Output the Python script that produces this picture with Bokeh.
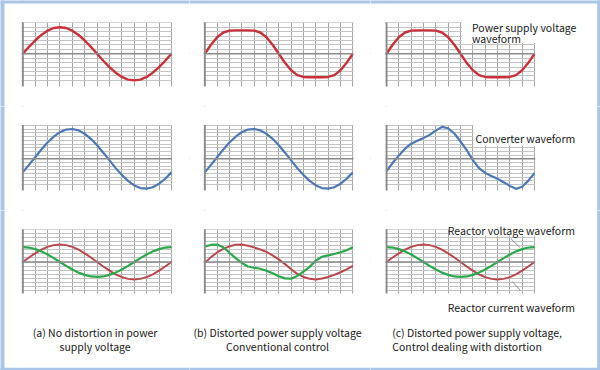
from bokeh.plotting import figure
from bokeh.layouts import gridplot
from bokeh.models import FixedTicker, Span, Label, BoxAnnotation, Range1d
from bokeh.embed import file_html
from bokeh.resources import INLINE

# ---------------- data ----------------
phase_deg = [0, 15, 30, 45, 60, 75, 90, 105, 120, 135, 150, 165, 180,
             195, 210, 225, 240, 255, 270, 285, 300, 315, 330, 345, 360]

# power supply voltage (per unit)
supply_a = [0.00, 0.26, 0.50, 0.71, 0.87, 0.97, 1.00, 0.97, 0.87, 0.71, 0.50, 0.26, 0.00,
            -0.26, -0.50, -0.71, -0.87, -0.97, -1.00, -0.97, -0.87, -0.71, -0.50, -0.26, 0.00]
supply_bc = [0.00, 0.34, 0.62, 0.80, 0.87, 0.88, 0.88, 0.88, 0.87, 0.80, 0.62, 0.34, 0.00,
             -0.34, -0.62, -0.80, -0.87, -0.88, -0.88, -0.88, -0.87, -0.80, -0.62, -0.34, 0.00]

# converter voltage (per unit)
conv_a = [-0.51, -0.23, 0.06, 0.35, 0.61, 0.83, 1.00, 1.10, 1.12, 1.07, 0.94, 0.75, 0.51,
          0.23, -0.06, -0.35, -0.61, -0.83, -1.00, -1.10, -1.12, -1.07, -0.94, -0.75, -0.51]
conv_b = [-0.51, -0.23, 0.06, 0.35, 0.61, 0.83, 1.00, 1.10, 1.12, 1.07, 0.94, 0.75, 0.51,
          0.23, -0.06, -0.35, -0.61, -0.83, -1.00, -1.10, -1.12, -1.07, -0.94, -0.75, -0.51]
conv_c = [-0.47, -0.15, 0.12, 0.38, 0.57, 0.68, 0.78, 0.90, 1.06, 1.20, 1.15, 0.95, 0.65,
          0.33, -0.05, -0.35, -0.53, -0.65, -0.75, -0.88, -1.02, -1.13, -1.05, -0.82, -0.54]

# reactor voltage (green) and reactor current (red)
rv_a = [0.86, 0.83, 0.74, 0.61, 0.43, 0.22, 0.00, -0.22, -0.43, -0.61, -0.74, -0.83, -0.86,
        -0.83, -0.74, -0.61, -0.43, -0.22, 0.00, 0.22, 0.43, 0.61, 0.74, 0.83, 0.86]
ri_a = [0.00, 0.26, 0.50, 0.71, 0.87, 0.97, 1.00, 0.97, 0.87, 0.71, 0.50, 0.26, 0.00,
        -0.26, -0.50, -0.71, -0.87, -0.97, -1.00, -0.97, -0.87, -0.71, -0.50, -0.26, 0.00]
rv_b = [0.90, 0.98, 1.00, 0.85, 0.53, 0.22, -0.05, -0.26, -0.33, -0.39, -0.50, -0.65, -0.82,
        -0.94, -0.96, -0.80, -0.55, -0.28, 0.08, 0.30, 0.38, 0.46, 0.56, 0.68, 0.85]
ri_b = [-0.05, 0.28, 0.55, 0.75, 0.90, 0.99, 1.00, 0.93, 0.84, 0.72, 0.58, 0.38, 0.15,
        -0.12, -0.42, -0.68, -0.86, -0.96, -1.00, -0.95, -0.86, -0.74, -0.59, -0.42, -0.22]
rv_c = [0.86, 0.83, 0.74, 0.61, 0.43, 0.22, 0.00, -0.22, -0.43, -0.61, -0.74, -0.83, -0.86,
        -0.83, -0.74, -0.61, -0.43, -0.22, 0.00, 0.22, 0.43, 0.61, 0.74, 0.83, 0.86]
ri_c = [0.00, 0.26, 0.50, 0.71, 0.87, 0.97, 1.00, 0.97, 0.87, 0.71, 0.50, 0.26, 0.00,
        -0.26, -0.50, -0.71, -0.87, -0.97, -1.00, -0.97, -0.87, -0.71, -0.50, -0.26, 0.00]

captions = [["(a) No distortion in power", "supply voltage"],
            ["(b) Distorted power supply voltage", "Conventional control"],
            ["(c) Distorted power supply voltage,", "Control dealing with distortion"]]
label_supply = ["Power supply voltage", "waveform"]
label_conv = "Converter waveform"
label_rv = "Reactor voltage waveform"
label_ri = "Reactor current waveform"

# leader lines (phase, value) for the reactor labels
lead_x0 = [303, 306]
lead_y0 = [1.33, -1.12]
lead_x1 = [324, 326]
lead_y1 = [0.85, -1.64]

# ---------------- layout / styling ----------------
FONT = "Noto Sans CJK JP"
FSIZE = "10.5px"
RED = "#c9303a"
BLUE = "#4d78b3"
GREEN = "#2aa84c"
DRED = "#b9474c"
VGRID = "#a6a6a6"
HGRID = "#c4c4c4"
AXIS = "#8a8a8a"
FRAME = "#a9c5e7"

# pixel geometry of the three columns and rows of panels
cols = [dict(x0=0, w=189, origin=22.3, ppd=148.6 / 360),
        dict(x0=189, w=181, origin=204.3, ppd=148.0 / 360),
        dict(x0=370, w=230, origin=386.0, ppd=148.0 / 360)]
rows = [dict(y0=0, h=106, center=53.3, ppu=26.6, step=1 / 6, kmin=-6, kmax=7, gbottom=86.0),
        dict(y0=106, h=104, center=158.3, ppu=26.6, step=0.139, kmin=-7, kmax=9, gbottom=190.0),
        dict(y0=210, h=160, center=261.5, ppu=17.4, step=0.2316, kmin=-7, kmax=8, gbottom=293.0)]


def X(c, px):
    return (px - c["origin"]) / c["ppd"]


def Y(r, py):
    return (r["center"] - py) / r["ppu"]


def mask(p, left, right, bottom, top, color="white"):
    p.add_layout(BoxAnnotation(left=left, right=right, bottom=bottom, top=top,
                               fill_color=color, fill_alpha=1, line_color=None))


ext = {}


def panel(ci, ri):
    c, r = cols[ci], rows[ri]
    xs, xe = X(c, c["x0"]), X(c, c["x0"] + c["w"])
    yt, yb = Y(r, r["y0"]), Y(r, r["y0"] + r["h"])
    p = figure(width=c["w"], height=r["h"], x_range=Range1d(xs, xe),
               y_range=Range1d(yb, yt), output_backend="svg",
               toolbar_location=None, x_axis_location=None, y_axis_location=None,
               min_border_left=0, min_border_right=0, min_border_top=0,
               min_border_bottom=0, title=None)
    p.outline_line_color = None
    p.xgrid.ticker = FixedTicker(ticks=list(range(0, 361, 30)))
    p.xgrid.grid_line_color = VGRID
    p.ygrid.ticker = FixedTicker(ticks=[k * r["step"] for k in range(r["kmin"], r["kmax"] + 1)])
    p.ygrid.grid_line_color = HGRID
    p.add_layout(Span(location=0, dimension="width", line_color=AXIS, line_width=1.5))
    p.add_layout(Span(location=0, dimension="height", line_color=AXIS, line_width=2))
    ext[(ri, ci)] = dict(xs=xs, xe=xe, yt=yt, yb=yb)
    return p


figs = [[panel(ci, ri) for ci in range(3)] for ri in range(3)]

supplies = [supply_a, supply_bc, supply_bc]
convs = [conv_a, conv_b, conv_c]
rvs = [rv_a, rv_b, rv_c]
ris = [ri_a, ri_b, ri_c]

for ci in range(3):
    figs[0][ci].line(phase_deg, supplies[ci], line_color=RED, line_width=2.4)
    figs[1][ci].line(phase_deg, convs[ci], line_color=BLUE, line_width=2.2)
    figs[2][ci].line(phase_deg, ris[ci], line_color=DRED, line_width=2)
    figs[2][ci].line(phase_deg, rvs[ci], line_color=GREEN, line_width=2.2)

figs[2][2].segment(x0=lead_x0, y0=lead_y0, x1=lead_x1, y1=lead_y1,
                   line_color="#8a8a8a", line_width=1)

# white masks that limit each grid to its panel
for ri in range(3):
    for ci in range(3):
        p, c, r, e = figs[ri][ci], cols[ci], rows[ri], ext[(ri, ci)]
        gtop = r["kmax"] * r["step"] + 0.6 / r["ppu"]
        gbot = Y(r, r["gbottom"])
        mask(p, e["xs"] - 10, -1.2 / c["ppd"], e["yb"] - 10, e["yt"] + 10)
        mask(p, 360 + 0.7 / c["ppd"], e["xe"] + 10, e["yb"] - 10, e["yt"] + 10)
        mask(p, e["xs"] - 10, e["xe"] + 10, gtop, e["yt"] + 10)
        mask(p, e["xs"] - 10, e["xe"] + 10, e["yb"] - 10, gbot)

# white cut-outs behind the labels in column (c)
cc = cols[2]
mask(figs[0][2], X(cc, 461.5), 400, Y(rows[0], 42.5), 5)
mask(figs[1][2], X(cc, 473.0), 400, Y(rows[1], 145.5), 5)
mask(figs[2][2], X(cc, 448.5), 400, Y(rows[2], 235.3), 5)

# light blue picture frame
for ci in range(3):
    p, e = figs[0][ci], ext[(0, ci)]
    mask(p, e["xs"] - 10, e["xe"] + 10, Y(rows[0], 3.0), e["yt"] + 10, FRAME)
    p, e = figs[2][ci], ext[(2, ci)]
    mask(p, e["xs"] - 10, e["xe"] + 10, e["yb"] - 10, Y(rows[2], 367.3), FRAME)
for ri in range(3):
    p, e = figs[ri][0], ext[(ri, 0)]
    mask(p, e["xs"] - 10, X(cols[0], 4.0), e["yb"] - 10, e["yt"] + 10, FRAME)
    p, e = figs[ri][2], ext[(ri, 2)]
    mask(p, X(cols[2], 596.7), e["xe"] + 10, e["yb"] - 10, e["yt"] + 10, FRAME)


def lab(ci, ri, px, py, text, align="left"):
    p = figs[ri][ci]
    p.add_layout(Label(x=X(cols[ci], px), y=Y(rows[ri], py), text=text,
                       text_font=FONT, text_font_size=FSIZE, text_color="#1a1a1a",
                       text_align=align, text_baseline="alphabetic"))


lab(2, 0, 471.5, 26.7, label_supply[0])
lab(2, 0, 471.5, 37.7, label_supply[1])
lab(2, 1, 475.0, 137.7, label_conv)
lab(2, 2, 447.3, 230.0, label_rv)
lab(2, 2, 447.3, 307.3, label_ri)

lab(0, 2, 94.6, 332.0, captions[0][0], "center")
lab(0, 2, 94.6, 346.0, captions[0][1], "center")
lab(1, 2, 277.0, 332.0, captions[1][0], "center")
lab(1, 2, 277.0, 346.0, captions[1][1], "center")
lab(2, 2, 391.7, 332.0, captions[2][0], "left")
lab(2, 2, 391.7, 346.0, captions[2][1], "left")

grid = gridplot(figs, toolbar_location=None)

open("out.html", "w").write(file_html(grid, INLINE))
